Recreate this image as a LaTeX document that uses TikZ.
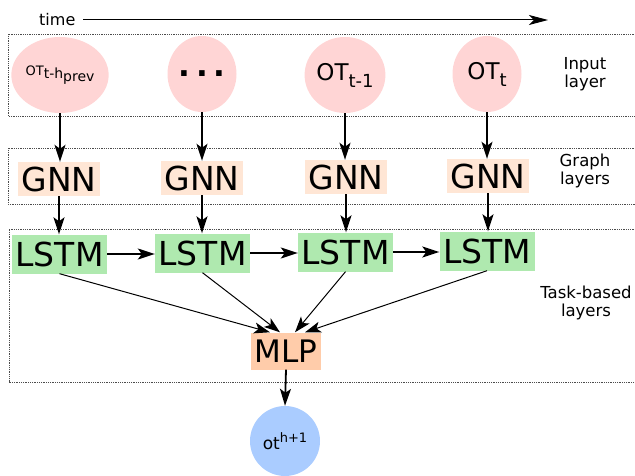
\documentclass[tikz,border=0pt]{standalone}
\usepackage{fontspec}
\setmainfont{DejaVu Sans}
\usetikzlibrary{arrows.meta,shapes.geometric}
\definecolor{pinkc}{HTML}{FFD5D5}
\definecolor{gnnc}{HTML}{FFE6D5}
\definecolor{lstmc}{HTML}{AFE9AF}
\definecolor{mlpc}{HTML}{FFCCAA}
\definecolor{outc}{HTML}{AACCFF}
\newcommand\fs[1]{\fontsize{#1}{#1}\selectfont}
\begin{document}
\begin{tikzpicture}[x=1pt,y=-1pt,
  inp/.style={ellipse,fill=pinkc,minimum width=69pt,minimum height=76pt,inner sep=0pt},
  gnnbox/.style={rectangle,fill=gnnc,minimum width=82pt,minimum height=34pt,inner sep=0pt,font=\fs{33}},
  lstmbox/.style={rectangle,fill=lstmc,minimum width=95pt,minimum height=39pt,inner sep=0pt,font=\fs{33}},
  mlpbox/.style={rectangle,fill=mlpc,minimum width=70pt,minimum height=37pt,inner sep=0pt,font=\fs{31}},
  outnode/.style={circle,fill=outc,minimum size=70pt,inner sep=0pt},
  lab/.style={align=center,font=\fontsize{16.5}{18.5}\selectfont,inner sep=0pt},
  dotbox/.style={densely dotted,line width=0.8pt,draw=black!70},
  arr/.style={-{Stealth[length=17pt,width=11pt,inset=4pt]},line width=1.8pt},
  thin arr/.style={-{Stealth[length=16pt,width=11pt,inset=4pt]},line width=1pt}]
\useasboundingbox (0,0) rectangle (635,476);

% time arrow
\node[anchor=west,inner sep=0pt,font=\fs{16}] (time) at (39,20) {time};
\coordinate (tstart) at (83,20);
\coordinate (tend) at (548,20);
\draw[-{Stealth[length=19pt,width=10pt,inset=5pt]},line width=1pt] (tstart) -- (tend);

% dotted layer boxes
\draw[dotbox] (636,34) -- (8,34) -- (8,116) -- (636,116);
\draw[dotbox] (636,148) -- (8,148) -- (8,204) -- (636,204);
\draw[dotbox] (636,229) -- (9,229) -- (9,382) -- (636,382);

% input layer
\node[inp] (c1) at (60,75) {\fs{13}OT\raisebox{-3pt}{\fs{14}t-h\raisebox{-3pt}{prev}}};
\node[inp] (c2) at (202,74) {\fs{31}\bfseries .\hspace{5.5pt}.\hspace{5.5pt}.};
\node[inp] (c3) at (345,75) {\fs{23}OT\raisebox{-7pt}{\fs{18}t-1}};
\node[inp] (c4) at (487,74) {\fs{23}OT\raisebox{-7pt}{\fs{18}t}};

% graph layers
\node[gnnbox] (g1) at (59,179) {GNN};
\node[gnnbox] (g2) at (202,178) {GNN};
\node[gnnbox] (g3) at (346,177) {GNN};
\node[gnnbox] (g4) at (488,176) {GNN};

% LSTM
\node[lstmbox] (l1) at (59.5,254) {LSTM};
\node[lstmbox] (l2) at (202.5,253) {LSTM};
\node[lstmbox] (l3) at (345.5,252) {LSTM};
\node[lstmbox] (l4) at (487,251) {LSTM};

% MLP and output
\node[mlpbox] (m) at (286,351) {MLP};
\node[outnode] (o) at (285,441) {\fs{17}ot\raisebox{7pt}{\fs{13}h+1}};

% labels
\node[lab] (li) at (585,74) {Input\\layer};
\node[lab] (lg) at (585,171) {Graph\\layers};
\node[lab] (lt) at (586,303) {Task-based\\layers};

% arrows
\foreach \c/\g in {c1/g1,c2/g2,c3/g3,c4/g4}{
  \draw[arr] (\c.south) -- (\c.south |- \g.north);
}
\foreach \g/\l in {g1/l1,g2/l2,g3/l3,g4/l4}{
  \draw[arr] (\g.south) -- (\g.south |- \l.north);
}
\draw[arr] (l1.east) -- (l2.west |- l1.east);
\draw[arr] (l2.east) -- (l3.west |- l2.east);
\draw[arr] (l3.east) -- (l4.west |- l3.east);

\draw[thin arr] (l1.south) -- ([xshift=-16pt]m.north);
\draw[thin arr] (l2.south) -- ([xshift=-6pt]m.north);
\draw[thin arr] (l3.south) -- ([xshift=9pt]m.north);
\draw[thin arr] (l4.south) -- ([xshift=19pt]m.north);
\draw[arr] (m.south) -- (o.north);
\end{tikzpicture}
\end{document}
